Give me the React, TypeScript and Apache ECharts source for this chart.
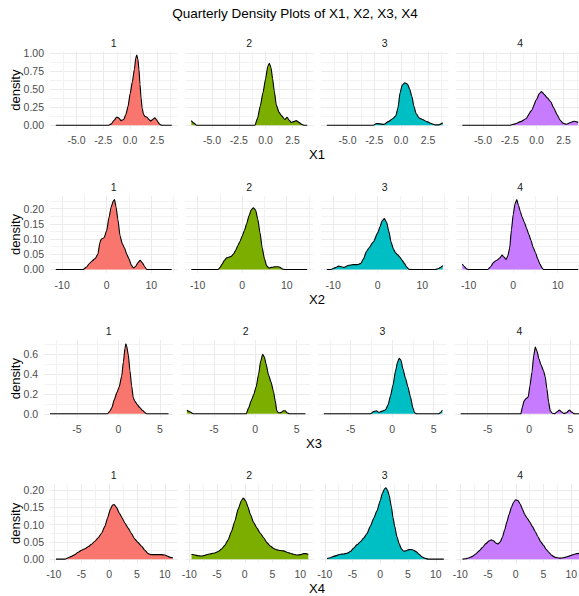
import React, { useEffect, useRef } from 'react';
import * as echarts from 'echarts';

const chartTitle = 'Quarterly Density Plots of X1, X2, X3, X4';
const quarterLabels = ['1', '2', '3', '4'];
const variableNames = ['X1', 'X2', 'X3', 'X4'];
const quarterColors = ['#F8766D', '#7CAE00', '#00BFC4', '#C77CFF'];

// ---- density curves: [value, density] ----
const x1Q1 = [[-6.94,0],[-2,0],[-1.75,0.02],[-1.5,0.07],[-1.25,0.115],[-1.05,0.1],[-0.85,0.065],[-0.6,0.08],[-0.4,0.15],[-0.2,0.26],[0,0.44],[0.2,0.6],[0.4,0.78],[0.52,0.93],[0.62,0.976],[0.72,0.92],[0.82,0.78],[0.92,0.57],[1.02,0.38],[1.12,0.24],[1.25,0.15],[1.4,0.12],[1.56,0.115],[1.75,0.08],[1.93,0.06],[2.1,0.08],[2.3,0.105],[2.45,0.08],[2.6,0.045],[2.75,0.015],[2.95,0],[3.88,0]];
const x1Q2 = [[-6.94,0.065],[-6.7,0.03],[-6.45,0],[-1,0],[-0.75,0.1],[-0.5,0.27],[-0.25,0.45],[0,0.65],[0.2,0.82],[0.35,0.86],[0.5,0.8],[0.65,0.65],[0.8,0.48],[1,0.28],[1.25,0.18],[1.5,0.13],[1.8,0.08],[2,0.11],[2.2,0.07],[2.4,0.04],[2.6,0.05],[2.85,0.065],[3.1,0.04],[3.4,0.01],[3.6,0],[3.88,0]];
const x1Q3 = [[-6.94,0],[-2.6,0],[-2.3,0.025],[-2,0.02],[-1.6,0.012],[-1.2,0.05],[-0.8,0.09],[-0.5,0.13],[-0.3,0.24],[-0.1,0.45],[0.1,0.56],[0.35,0.59],[0.6,0.57],[0.8,0.5],[1,0.4],[1.2,0.26],[1.4,0.16],[1.7,0.1],[2,0.08],[2.4,0.05],[2.8,0.025],[3.2,0.005],[3.5,0.005],[3.88,0.035]];
const x1Q4 = [[-6.94,0],[-2.5,0],[-2,0.02],[-1.5,0.05],[-1,0.09],[-0.5,0.2],[0,0.36],[0.25,0.44],[0.45,0.47],[0.7,0.43],[1,0.38],[1.3,0.33],[1.6,0.24],[1.9,0.15],[2.2,0.07],[2.45,0.03],[2.8,0.015],[3.1,0.035],[3.5,0.055],[3.88,0.04]];

const x2Q1 = [[-11.44,0],[-5.3,0],[-4.5,0.008],[-4,0.018],[-3.3,0.028],[-2.6,0.036],[-2,0.05],[-1.5,0.09],[-1.2,0.1],[-0.6,0.104],[0,0.128],[0.5,0.17],[1,0.205],[1.5,0.225],[1.75,0.229],[2.1,0.205],[2.5,0.165],[3,0.11],[3.5,0.085],[4,0.07],[4.5,0.05],[5,0.035],[5.5,0.015],[6,0.005],[6.5,0.01],[7,0.022],[7.5,0.03],[8,0.022],[8.5,0.01],[9,0],[14.6,0]];
const x2Q2 = [[-11.44,0],[-5.4,0],[-5,0.006],[-4.5,0.018],[-4,0.03],[-3.5,0.038],[-3,0.04],[-2.5,0.043],[-2,0.05],[-1.5,0.062],[-1,0.078],[-0.5,0.092],[0,0.11],[0.5,0.128],[1,0.15],[1.5,0.175],[2,0.195],[2.5,0.202],[3,0.195],[3.5,0.165],[4,0.12],[4.5,0.07],[5,0.035],[5.5,0.012],[6,0.005],[6.5,0.007],[7,0.008],[7.5,0.009],[8,0.009],[8.5,0.007],[9,0.002],[9.5,0],[14.6,0]];
const x2Q3 = [[-11.44,0],[-10.5,0],[-9.5,0.006],[-8.8,0.011],[-8,0.008],[-7.5,0.007],[-6.5,0.014],[-5.5,0.016],[-4.5,0.016],[-3.8,0.02],[-3.2,0.035],[-2.5,0.06],[-2,0.07],[-1,0.09],[0,0.12],[0.5,0.14],[1,0.16],[1.5,0.167],[2,0.155],[2.5,0.125],[3,0.09],[3.5,0.068],[4,0.055],[4.5,0.048],[5,0.04],[5.5,0.03],[6,0.02],[6.5,0.008],[7,0.001],[7.5,0],[13,0],[13.6,0.003],[14.1,0.007],[14.6,0.013]];
const x2Q4 = [[-11.44,0.018],[-11,0.01],[-10.5,0.002],[-10,0],[-5.7,0],[-5,0.01],[-4.5,0.022],[-4,0.028],[-3.5,0.032],[-3,0.038],[-2.5,0.047],[-2,0.04],[-1.6,0.033],[-1.2,0.045],[-0.8,0.07],[-0.4,0.13],[0,0.18],[0.4,0.215],[0.8,0.229],[1.2,0.21],[1.6,0.19],[2,0.172],[2.5,0.155],[3,0.135],[3.5,0.115],[4,0.095],[4.5,0.072],[5,0.055],[5.5,0.035],[6,0.018],[6.5,0.005],[6.8,0],[14.6,0]];

const x3Q1 = [[-8.25,0],[-1.3,0],[-1,0.03],[-0.8,0.06],[-0.5,0.14],[-0.2,0.21],[0.1,0.27],[0.4,0.38],[0.6,0.52],[0.8,0.66],[0.9,0.705],[1,0.68],[1.2,0.59],[1.4,0.43],[1.6,0.28],[1.8,0.16],[2,0.125],[2.3,0.09],[2.6,0.06],[2.9,0.035],[3.2,0.012],[3.4,0],[6.05,0]];
const x3Q2 = [[-8.25,0.035],[-7.9,0.02],[-7.5,0],[-1.1,0],[-0.8,0.06],[-0.5,0.13],[-0.2,0.19],[0.1,0.27],[0.4,0.4],[0.65,0.53],[0.9,0.597],[1.1,0.57],[1.3,0.5],[1.6,0.39],[1.9,0.32],[2.2,0.22],[2.4,0.13],[2.6,0.03],[2.8,0.01],[3.1,0.012],[3.4,0.03],[3.6,0.03],[3.85,0.01],[4.1,0],[6.05,0]];
const x3Q3 = [[-8.25,0],[-2.6,0],[-2.3,0.02],[-1.9,0.03],[-1.6,0.013],[-1.2,0.027],[-0.8,0.04],[-0.5,0.09],[-0.2,0.18],[0.1,0.29],[0.4,0.43],[0.65,0.52],[0.85,0.557],[1.05,0.54],[1.3,0.45],[1.6,0.36],[1.9,0.27],[2.2,0.17],[2.5,0.06],[2.7,0.01],[2.95,0],[5.6,0],[5.85,0.015],[6.05,0.035]];
const x3Q4 = [[-8.25,0],[-1,0],[-0.8,0.07],[-0.6,0.13],[-0.4,0.15],[-0.1,0.17],[0.1,0.28],[0.35,0.42],[0.55,0.58],[0.75,0.67],[0.95,0.63],[1.2,0.55],[1.45,0.49],[1.75,0.43],[1.95,0.37],[2.15,0.25],[2.35,0.12],[2.55,0.03],[2.8,0.005],[3.1,0.002],[3.4,0.02],[3.65,0.037],[3.9,0.02],[4.2,0.003],[4.5,0.01],[4.85,0.037],[5.1,0.02],[5.4,0.002],[5.7,0],[6.05,0]];

const x4Q1 = [[-9.6,0],[-8,0],[-7.4,0.004],[-6.8,0.008],[-6.2,0.013],[-5.6,0.02],[-5,0.026],[-4.4,0.03],[-3.8,0.036],[-3.2,0.043],[-2.6,0.052],[-2,0.062],[-1.4,0.075],[-0.8,0.095],[-0.3,0.12],[0.2,0.145],[0.6,0.157],[0.9,0.158],[1.3,0.15],[1.8,0.134],[2.3,0.12],[2.8,0.105],[3.4,0.09],[4,0.074],[4.6,0.058],[5.2,0.048],[5.8,0.038],[6.4,0.026],[7,0.016],[7.6,0.013],[8.2,0.013],[8.8,0.013],[9.4,0.013],[10,0.012],[10.6,0.008],[11,0.005],[11.45,0.004]];
const x4Q2 = [[-9.6,0.014],[-9,0.012],[-8.4,0.01],[-7.8,0.009],[-7.2,0.011],[-6.6,0.014],[-6,0.016],[-5.4,0.018],[-4.8,0.022],[-4.2,0.029],[-3.6,0.04],[-3,0.056],[-2.4,0.08],[-1.8,0.11],[-1.2,0.145],[-0.6,0.17],[-0.25,0.177],[0.2,0.168],[0.6,0.15],[1,0.13],[1.6,0.106],[2.2,0.09],[2.8,0.075],[3.4,0.062],[4,0.048],[4.6,0.038],[5.2,0.031],[5.8,0.027],[6.4,0.025],[7,0.024],[7.6,0.02],[8.2,0.017],[8.8,0.014],[9.4,0.012],[10,0.013],[10.6,0.016],[11,0.016],[11.45,0.014]];
const x4Q3 = [[-9.6,0.002],[-9,0.004],[-8.4,0.008],[-7.8,0.011],[-7.2,0.014],[-6.6,0.015],[-6,0.017],[-5.4,0.022],[-4.8,0.032],[-4.2,0.042],[-3.6,0.05],[-3,0.061],[-2.4,0.074],[-1.8,0.095],[-1.2,0.118],[-0.6,0.14],[0,0.17],[0.4,0.192],[0.8,0.205],[1,0.207],[1.3,0.2],[1.6,0.185],[2,0.152],[2.3,0.12],[2.6,0.095],[3,0.065],[3.4,0.045],[3.8,0.03],[4.2,0.023],[4.6,0.024],[5,0.027],[5.5,0.028],[6,0.026],[6.5,0.021],[7,0.014],[7.5,0.007],[8,0.003],[8.6,0],[11.45,0]];
const x4Q4 = [[-9.6,0],[-9,0.001],[-8.4,0.004],[-7.8,0.008],[-7.2,0.015],[-6.6,0.024],[-6,0.034],[-5.4,0.045],[-4.8,0.053],[-4.4,0.056],[-4,0.053],[-3.6,0.047],[-3.2,0.044],[-2.8,0.05],[-2.4,0.064],[-2,0.085],[-1.6,0.108],[-1.2,0.13],[-0.8,0.15],[-0.4,0.165],[0,0.172],[0.4,0.17],[0.8,0.16],[1.2,0.145],[1.6,0.13],[2,0.12],[2.5,0.108],[3,0.095],[3.5,0.08],[4,0.065],[4.5,0.05],[5,0.04],[5.5,0.028],[6,0.019],[6.5,0.011],[7,0.006],[7.5,0.004],[8,0.003],[8.5,0.004],[9,0.006],[9.5,0.008],[10,0.011],[10.5,0.014],[11,0.016],[11.45,0.017]];

const densities = [
  [x1Q1, x1Q2, x1Q3, x1Q4],
  [x2Q1, x2Q2, x2Q3, x2Q4],
  [x3Q1, x3Q2, x3Q3, x3Q4],
  [x4Q1, x4Q2, x4Q3, x4Q4],
];

// ---- scales (per row) ----
const xLimits = [[-7.48, 4.42], [-12.74, 15.9], [-8.95, 6.6], [-10.68, 12.29]];
const xBreaks = [[-5, -2.5, 0, 2.5], [-10, 0, 10], [-5, 0, 5], [-10, -5, 0, 5, 10]];
const xMinorBreaks = [[-6.25, -3.75, -1.25, 1.25, 3.75], [-5, 5, 15], [-7.5, -2.5, 2.5], [-7.5, -2.5, 2.5, 7.5]];
const yLimits = [[-0.049, 1.025], [-0.0115, 0.241], [-0.0354, 0.742], [-0.0103, 0.2173]];
const yBreaks = [[0, 0.25, 0.5, 0.75, 1], [0, 0.05, 0.1, 0.15, 0.2], [0, 0.2, 0.4, 0.6], [0, 0.05, 0.1, 0.15, 0.2]];
const yMinorBreaks = [[0.125, 0.375, 0.625, 0.875], [0.025, 0.075, 0.125, 0.175, 0.225], [0.1, 0.3, 0.5, 0.7], [0.025, 0.075, 0.125, 0.175]];
const xDigits = [1, 0, 0, 0];
const yDigits = [2, 2, 1, 2];

// ---- layout ----
const FONT = '"Liberation Sans", Arial, Helvetica, sans-serif';
const rowTop = [51.5, 196, 340, 484.2];
const rowHeight = [77.3, 77, 77.3, 78.5];
const rowLeft = [50, 50, 44.2, 50];
const panelWidth = [127.5, 127.5, 128.9, 127.5];
const panelGap = 8;

function buildOption() {
  const grids: any[] = [];
  const xAxes: any[] = [];
  const yAxes: any[] = [];
  const series: any[] = [];
  const elements: any[] = [];

  elements.push({
    type: 'text', x: 295, y: 13,
    style: { text: chartTitle, font: `13.5px ${FONT}`, fill: '#000', align: 'center', verticalAlign: 'middle', textAlign: 'center', textVerticalAlign: 'middle' },
  });

  for (let r = 0; r < 4; r++) {
    const w = panelWidth[r];
    const h = rowHeight[r];
    const top = rowTop[r];
    for (let c = 0; c < 4; c++) {
      const g = r * 4 + c;
      const left = rowLeft[r] + c * (w + panelGap);
      grids.push({ left, top, width: w, height: h, containLabel: false, outerBoundsMode: 'none' });
      const xd = xDigits[r];
      const yd = yDigits[r];
      xAxes.push({
        type: 'value', gridIndex: g, min: xLimits[r][0], max: xLimits[r][1], position: 'bottom',
        axisLine: { show: false, onZero: false },
        axisTick: { show: false, customValues: xBreaks[r] },
        axisLabel: { show: true, customValues: xBreaks[r], formatter: (v: number) => v.toFixed(xd), color: '#4D4D4D', fontSize: 10.5, fontFamily: FONT, margin: 6 },
        splitLine: { show: true, lineStyle: { color: '#EBEBEB', width: 1 } },
      });
      xAxes.push({
        type: 'value', gridIndex: g, min: xLimits[r][0], max: xLimits[r][1], position: 'bottom',
        axisLine: { show: false, onZero: false },
        axisTick: { show: false, customValues: xMinorBreaks[r] },
        axisLabel: { show: false },
        splitLine: { show: true, lineStyle: { color: '#F2F2F2', width: 1 } },
      });
      yAxes.push({
        type: 'value', gridIndex: g, min: yLimits[r][0], max: yLimits[r][1], position: 'left',
        axisLine: { show: false, onZero: false },
        axisTick: { show: false, customValues: yBreaks[r] },
        axisLabel: { show: c === 0, customValues: yBreaks[r], formatter: (v: number) => v.toFixed(yd), color: '#4D4D4D', fontSize: 10.5, fontFamily: FONT, margin: 6 },
        splitLine: { show: true, lineStyle: { color: '#EBEBEB', width: 1 } },
      });
      yAxes.push({
        type: 'value', gridIndex: g, min: yLimits[r][0], max: yLimits[r][1], position: 'left',
        axisLine: { show: false, onZero: false },
        axisTick: { show: false, customValues: yMinorBreaks[r] },
        axisLabel: { show: false },
        splitLine: { show: true, lineStyle: { color: '#F2F2F2', width: 1 } },
      });
      series.push({
        type: 'line', name: `${variableNames[r]} Q${quarterLabels[c]}`,
        xAxisIndex: 2 * g, yAxisIndex: 2 * g,
        data: densities[r][c],
        showSymbol: false, symbol: 'none', smooth: 0.2, smoothMonotone: 'x',
        lineStyle: { color: '#000', width: 1.1 },
        areaStyle: { color: quarterColors[c], opacity: 1 },
        clip: true, z: 3,
      });
      elements.push({
        type: 'text', x: left + w / 2, y: top - 9,
        style: { text: quarterLabels[c], font: `10.5px ${FONT}`, fill: '#1A1A1A', align: 'center', verticalAlign: 'middle', textAlign: 'center', textVerticalAlign: 'middle' },
      });
    }
    const rowRight = rowLeft[r] + 4 * w + 3 * panelGap;
    elements.push({
      type: 'text', x: (rowLeft[r] + rowRight) / 2, y: top + h + 26,
      style: { text: variableNames[r], font: `13px ${FONT}`, fill: '#000', align: 'center', verticalAlign: 'middle', textAlign: 'center', textVerticalAlign: 'middle' },
    });
    elements.push({
      type: 'text', x: 15, y: top + h / 2, rotation: Math.PI / 2,
      style: { text: 'density', font: `13px ${FONT}`, fill: '#000', align: 'center', verticalAlign: 'middle', textAlign: 'center', textVerticalAlign: 'middle' },
    });
  }

  return {
    animation: false,
    backgroundColor: '#FFFFFF',
    grid: grids,
    xAxis: xAxes,
    yAxis: yAxes,
    series,
    graphic: { elements },
  };
}

export default function App() {
  const ref = useRef<HTMLDivElement>(null);
  useEffect(() => {
    if (!ref.current) return;
    const chart = echarts.init(ref.current, null, { renderer: 'svg' });
    chart.setOption(buildOption() as any);
    return () => chart.dispose();
  }, []);
  return <div ref={ref} style={{ position: 'fixed', left: 0, top: 0, width: 579, height: 596 }} />;
}
